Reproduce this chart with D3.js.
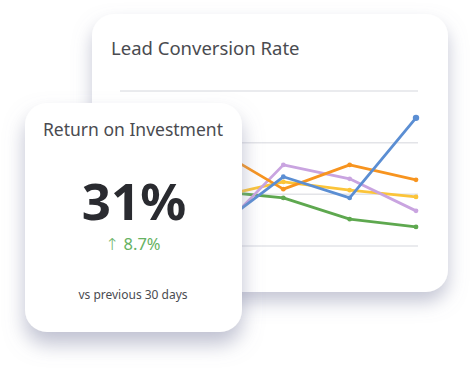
<!DOCTYPE html>
<html>
<head>
<meta charset="utf-8">
<script src="https://cdn.jsdelivr.net/npm/d3@7"></script>
<style>
  html, body { margin: 0; padding: 0; background: #fff; }
  svg { display: block; font-family: "Noto Sans", "Open Sans", sans-serif; }
</style>
</head>
<body>
<div id="chart"></div>
<script>
// data
const periods = ["P1", "P2", "P3", "P4"];
const seriesNames = ["green", "yellow", "lavender", "orange", "blue"];
const greenValues = [10.6, 9.3, 5.2, 3.7];
const yellowValues = [9.5, 12.4, 10.8, 9.5];
const lavenderValues = [2.5, 15.7, 13.0, 6.8];
const orangeValues = [18.6, 11.0, 15.7, 12.8];
const blueValues = [3.7, 13.4, 9.3, 24.8];
const gridTicks = [0, 10, 20, 30];

const seriesColors = {
    green: "#5ea84f",
    yellow: "#fbc43a",
    lavender: "#c9a4e0",
    orange: "#f7941f",
    blue: "#5b8ed3"
};
const seriesValues = {
    green: greenValues,
    yellow: yellowValues,
    lavender: lavenderValues,
    orange: orangeValues,
    blue: blueValues
};

const width = 474, height = 372;

let svg = d3.select("#chart").append("svg")
    .attr("width", width)
    .attr("height", height);

// soft card shadows
let defs = svg.append("defs");
let f1 = defs.append("filter").attr("id", "shadowBack")
    .attr("x", "-20%").attr("y", "-20%").attr("width", "140%").attr("height", "150%");
f1.append("feDropShadow")
    .attr("dx", 0).attr("dy", 10).attr("stdDeviation", 9)
    .attr("flood-color", "#8a8eab").attr("flood-opacity", 0.5);
let f2 = defs.append("filter").attr("id", "shadowFront")
    .attr("x", "-20%").attr("y", "-20%").attr("width", "140%").attr("height", "150%");
f2.append("feDropShadow")
    .attr("dx", 0).attr("dy", 12).attr("stdDeviation", 10)
    .attr("flood-color", "#8a8eab").attr("flood-opacity", 0.55);

// back card
svg.append("rect")
    .attr("x", 92).attr("y", 14)
    .attr("width", 356).attr("height", 278)
    .attr("rx", 22)
    .attr("fill", "#fff")
    .attr("filter", "url(#shadowBack)");

svg.append("text")
    .attr("x", 111).attr("y", 55)
    .attr("font-size", 18.5)
    .attr("fill", "#4a4b50")
    .text("Lead Conversion Rate");

// scales
let x = d3.scalePoint().domain(periods).range([217, 416]);
let y = d3.scaleLinear().domain([0, 30]).range([246, 91]);

// grid
svg.append("g").selectAll("line")
    .data(gridTicks)
    .join("line")
    .attr("x1", 120).attr("x2", 418)
    .attr("y1", d => y(d)).attr("y2", d => y(d))
    .attr("stroke", "#e3e4e8")
    .attr("stroke-width", 1.5);

let line = d3.line()
    .x((d, i) => x(periods[i]))
    .y(d => y(d));

seriesNames.forEach(name => {
    let vals = seriesValues[name];
    let g = svg.append("g");
    g.append("path")
        .datum(vals)
        .attr("d", line)
        .attr("fill", "none")
        .attr("stroke", seriesColors[name])
        .attr("stroke-width", 2.8)
        .attr("stroke-linejoin", "round");
    g.selectAll("circle")
        .data(vals)
        .join("circle")
        .attr("cx", (d, i) => x(periods[i]))
        .attr("cy", d => y(d))
        .attr("r", (d, i) => (name === "blue" && i === vals.length - 1) ? 3.2 : 2.4)
        .attr("fill", seriesColors[name]);
});

// front card
svg.append("rect")
    .attr("x", 25).attr("y", 103)
    .attr("width", 217).attr("height", 229)
    .attr("rx", 22)
    .attr("fill", "#fff")
    .attr("filter", "url(#shadowFront)");

svg.append("text")
    .attr("x", 133).attr("y", 136)
    .attr("text-anchor", "middle")
    .attr("font-size", 17.5)
    .attr("fill", "#4a4b50")
    .text("Return on Investment");

svg.append("text")
    .attr("x", 134).attr("y", 220)
    .attr("text-anchor", "middle")
    .attr("font-size", 51)
    .attr("font-weight", 700)
    .attr("fill", "#2a2b30")
    .text("31%");

let delta = svg.append("text")
    .attr("x", 133).attr("y", 250)
    .attr("text-anchor", "middle")
    .attr("font-size", 16.5)
    .attr("fill", "#66b262");
delta.append("tspan")
    .attr("font-family", "DejaVu Sans")
    .attr("font-weight", 200)
    .text("↑");
delta.append("tspan").text(" 8.7%");

svg.append("text")
    .attr("x", 133).attr("y", 299)
    .attr("text-anchor", "middle")
    .attr("font-size", 12)
    .attr("fill", "#4a4b50")
    .text("vs previous 30 days");
</script>
</body>
</html>
